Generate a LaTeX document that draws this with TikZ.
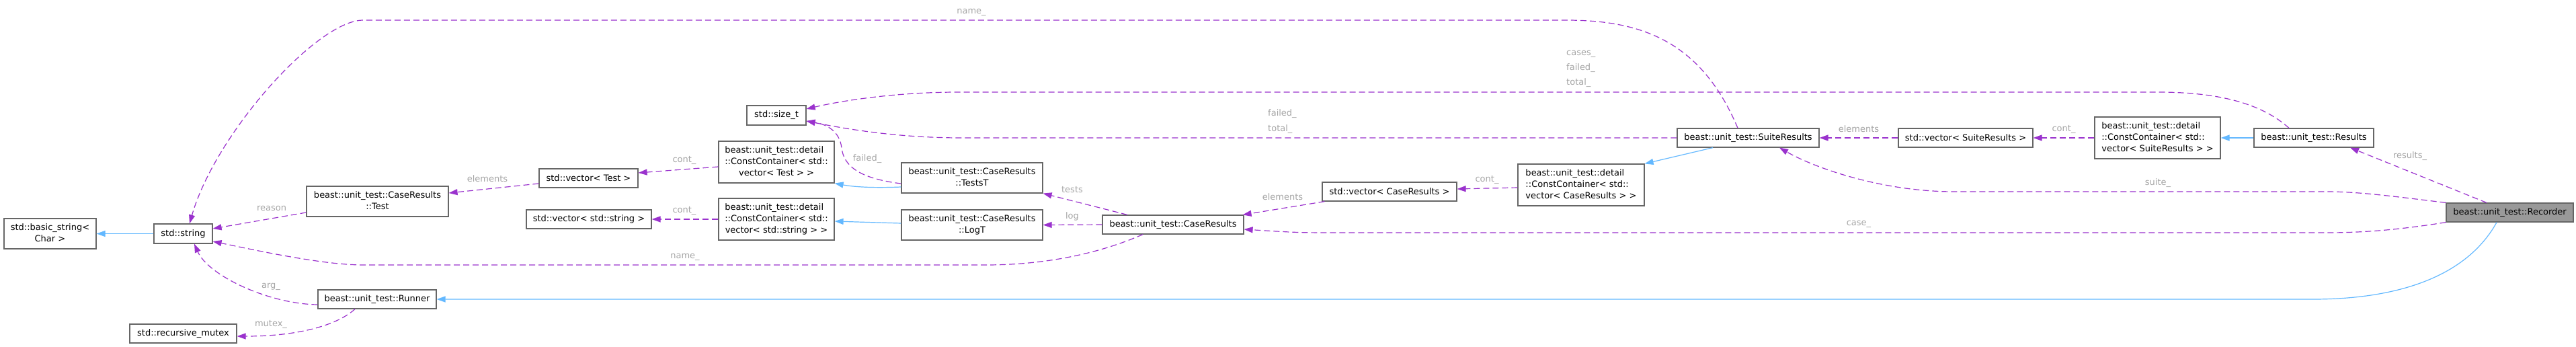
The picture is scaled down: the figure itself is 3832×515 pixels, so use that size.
\documentclass[tikz,border=0pt]{standalone}
\usepackage{fontspec}
\setmainfont{DejaVu Sans}
\usetikzlibrary{arrows.meta}
\definecolor{edgepurple}{RGB}{154,50,205}
\definecolor{edgeblue}{RGB}{99,184,255}
\definecolor{lblgray}{RGB}{165,165,165}
\definecolor{boxline}{RGB}{102,102,102}
\definecolor{boxfill}{RGB}{153,153,153}
\newcommand{\twolines}[2]{\begin{tabular}{@{}l@{}}#1\\\multicolumn{1}{@{}c@{}}{#2}\end{tabular}}
\newcommand{\threelines}[3]{\begin{tabular}{@{}l@{}}#1\\#2\\\multicolumn{1}{@{}c@{}}{#3}\end{tabular}}

\begin{document}
\begin{tikzpicture}[x=1pt, y=-1pt, >={Triangle[length=13pt,width=9pt]},
	every node/.style={font=\fontsize{13}{17}\selectfont, inner sep=0pt},
	clsbox/.style 2 args={draw=boxline, fill=white, line width=1.2pt, minimum width=#1pt, minimum height=#2pt},
	assoc/.style={->, draw=edgepurple, line width=1.2pt, dash pattern=on 9pt off 5pt},
	inherit/.style={->, draw=edgeblue, line width=1.2pt},
	lbl/.style={text=lblgray}]
	\useasboundingbox (0,0) rectangle (3832,515);
	
	% classes
	\node[clsbox={137}{45}] (basic) at (74.5,347.5) {\twolines{std::basic\_string<}{Char >}};
	\node[clsbox={87}{29}] (string) at (272.5,347.5) {std::string};
	\node[clsbox={159}{28}] (mutex) at (272.5,496) {std::recursive\_mutex};
	\node[clsbox={176}{28}] (runner) at (561,445) {beast::unit\_test::Runner};
	\node[clsbox={211}{45}] (test) at (561.5,299.5) {\twolines{beast::unit\_test::CaseResults}{::Test}};
	\node[clsbox={147}{28}] (vtest) at (875.5,265) {std::vector< Test >};
	\node[clsbox={186}{28}] (vstring) at (876,326) {std::vector< std::string >};
	\node[clsbox={172}{62}] (cctest) at (1155,241) {\threelines{beast::unit\_test::detail}{::ConstContainer< std::}{vector< Test > >}};
	\node[clsbox={172}{62}] (ccstring) at (1155,326) {\threelines{beast::unit\_test::detail}{::ConstContainer< std::}{vector< std::string > >}};
	\node[clsbox={88}{29}] (sizet) at (1155,171.5) {std::size\_t};
	\node[clsbox={210}{45}] (testst) at (1446,264.5) {\twolines{beast::unit\_test::CaseResults}{::TestsT}};
	\node[clsbox={210}{45}] (logt) at (1446,334.5) {\twolines{beast::unit\_test::CaseResults}{::LogT}};
	\node[clsbox={210}{28}] (caseres) at (1745,334) {beast::unit\_test::CaseResults};
	\node[clsbox={200}{28}] (vcase) at (2067,285) {std::vector< CaseResults >};
	\node[clsbox={188}{62}] (cccase) at (2352,275) {\threelines{beast::unit\_test::detail}{::ConstContainer< std::}{vector< CaseResults > >}};
	\node[clsbox={211}{28}] (suite) at (2600.5,205) {beast::unit\_test::SuiteResults};
	\node[clsbox={200}{28}] (vsuite) at (2924,205) {std::vector< SuiteResults >};
	\node[clsbox={187}{62}] (ccsuite) at (3209.5,205) {\threelines{beast::unit\_test::detail}{::ConstContainer< std::}{vector< SuiteResults > >}};
	\node[clsbox={178}{28}] (results) at (3442,205) {beast::unit\_test::Results};
	\node[clsbox={189}{28}, fill=boxfill] (recorder) at (3733.5,316) {beast::unit\_test::Recorder};
	
	% inheritance
	\draw[inherit] (string.west) -- (basic.east);
	\draw[inherit] ([yshift=-13.5pt]testst.west) .. controls (1290,280) and (1265,277) .. (cctest.south east);
	\draw[inherit] ([yshift=2.5pt]logt.west) -- ([yshift=-3pt]ccstring.east);
	\draw[inherit] ([xshift=-52.5pt]suite.south) -- (cccase.north east);
	\draw[inherit] (results.west) -- (ccsuite.east);
	\draw[inherit] ([xshift=-19.5pt]recorder.south) .. controls (3670,410) and (3570,445) .. (3440,445) -- (runner.east);
	
	% members
	\draw[assoc] ([yshift=-16.5pt]test.west) -- ([yshift=7.5pt]string.east);
	\node[lbl] at (404,310) {reason};
	\draw[assoc] ([yshift=-8pt]vtest.west) -- ([yshift=12.5pt]test.east);
	\node[lbl] at (725,266) {elements};
	\draw[assoc] ([yshift=-7pt]cctest.west) -- ([yshift=8pt]vtest.east);
	\node[lbl] at (1018,238) {cont\_};
	\draw[assoc] (ccstring.west) -- (vstring.east);
	\node[lbl] at (1018,313) {cont\_};
	\draw[assoc] ([yshift=-8.5pt]testst.west) .. controls (1275,265) and (1255,245) .. (1252,220) .. controls (1249,195) and (1230,185) .. ([yshift=-8.5pt]sizet.east);
	\node[lbl] at (1290,236) {failed\_};
	\draw[assoc] ([xshift=-68pt]caseres.north) -- (testst.south east);
	\node[lbl] at (1595,282) {tests};
	\draw[assoc] (caseres.west) -- (logt.east);
	\node[lbl] at (1595,322) {log};
	\draw[assoc] ([xshift=-45pt]caseres.south) .. controls (1640,375) and (1560,394) .. (1466,394) -- (540,394) .. controls (480,394) and (380,372) .. ([yshift=-11.5pt]string.east);
	\node[lbl] at (1019,382) {name\_};
	\draw[assoc] ([xshift=4pt]vcase.south west) -- ([xshift=-2pt]caseres.north east);
	\node[lbl] at (1908,293) {elements};
	\draw[assoc] ([yshift=-4pt]cccase.west) -- ([yshift=4pt]vcase.east);
	\node[lbl] at (2212,267) {cont\_};
	\draw[assoc] (vsuite.west) -- (suite.east);
	\node[lbl] at (2765,192) {elements};
	\draw[assoc] (ccsuite.west) -- (vsuite.east);
	\node[lbl] at (3070,192) {cont\_};
	\draw[assoc] (suite.west) -- (1430,205) .. controls (1330,205) and (1250,190) .. ([yshift=-8.5pt]sizet.east);
	\node[lbl, align=left, anchor=west, font=\fontsize{13}{23}\selectfont] at (1886,180.5) {failed\_\\total\_};
	\draw[assoc] ([xshift=-37pt]results.north) .. controls (3360,150) and (3290,137) .. (3210,137) -- (1425,137) .. controls (1340,137) and (1260,148) .. ([yshift=9.5pt]sizet.east);
	\node[lbl, align=left, anchor=west, font=\fontsize{13}{22}\selectfont] at (2330,102) {cases\_\\failed\_\\total\_};
	\draw[assoc] ([xshift=-15.5pt]suite.north) .. controls (2530,60) and (2440,30) .. (2330,30) -- (539,30) .. controls (470,32) and (320,200) .. ([xshift=9.5pt]string.north);
	\node[lbl] at (1445,18) {name\_};
	\draw[assoc] (recorder.north west) .. controls (3560,292) and (3510,285) .. (3460,285) -- (2907,285) .. controls (2800,285) and (2700,250) .. ([xshift=46.5pt]suite.south);
	\node[lbl] at (3210,272) {suite\_};
	\draw[assoc] (recorder.south west) .. controls (3560,343) and (3510,346) .. (3460,346) -- (2005,346) .. controls (1930,346) .. ([yshift=-7pt]caseres.east);
	\node[lbl] at (2765,333) {case\_};
	\draw[assoc] ([xshift=-34.5pt]recorder.north) -- ([xshift=54pt]results.south);
	\node[lbl] at (3585,232) {results\_};
	\draw[assoc] ([yshift=-8pt]runner.west) .. controls (400,452) and (310,410) .. ([xshift=16.5pt]string.south);
	\node[lbl] at (403,426) {arg\_};
	\draw[assoc] ([xshift=-33pt]runner.south) .. controls (500,485) and (440,500) .. ([yshift=-4pt]mutex.east);
	\node[lbl] at (403,482) {mutex\_};
\end{tikzpicture}
\end{document}
